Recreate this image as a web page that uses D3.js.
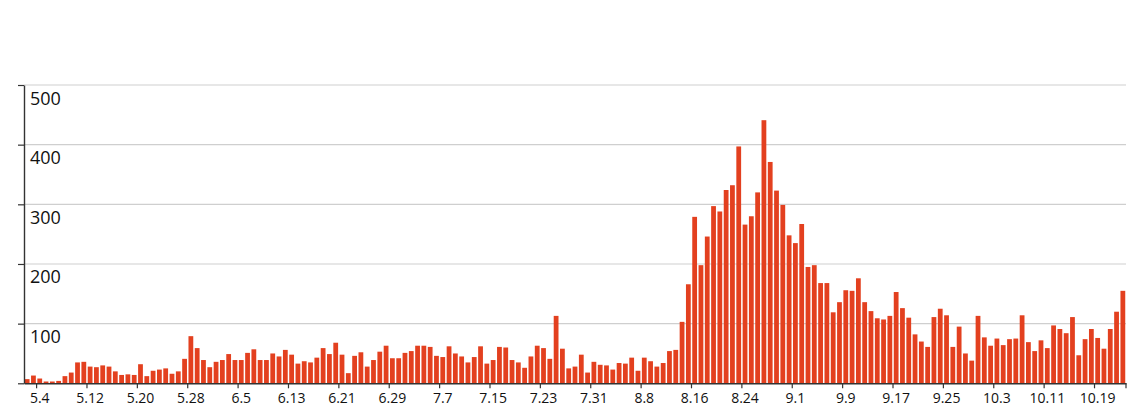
<!DOCTYPE html>
<html>
<head>
<meta charset="utf-8">
<script src="https://cdn.jsdelivr.net/npm/d3@7/dist/d3.min.js"></script>
<style>
  html, body { margin: 0; padding: 0; background: #fff; }
  svg { display: block; }
  text { font-family: "Open Sans", "Noto Sans", sans-serif; fill: #111; }
</style>
</head>
<body>
<svg id="chart" width="1138" height="418"></svg>
<script>
const categories = [
  "5.2","5.3","5.4","5.5","5.6","5.7","5.8","5.9","5.10","5.11","5.12","5.13","5.14","5.15","5.16","5.17","5.18","5.19","5.20","5.21","5.22","5.23","5.24","5.25","5.26","5.27","5.28","5.29","5.30","5.31",
  "6.1","6.2","6.3","6.4","6.5","6.6","6.7","6.8","6.9","6.10","6.11","6.12","6.13","6.14","6.15","6.16","6.17","6.18","6.19","6.20","6.21","6.22","6.23","6.24","6.25","6.26","6.27","6.28","6.29","6.30",
  "7.1","7.2","7.3","7.4","7.5","7.6","7.7","7.8","7.9","7.10","7.11","7.12","7.13","7.14","7.15","7.16","7.17","7.18","7.19","7.20","7.21","7.22","7.23","7.24","7.25","7.26","7.27","7.28","7.29","7.30","7.31",
  "8.1","8.2","8.3","8.4","8.5","8.6","8.7","8.8","8.9","8.10","8.11","8.12","8.13","8.14","8.15","8.16","8.17","8.18","8.19","8.20","8.21","8.22","8.23","8.24","8.25","8.26","8.27","8.28","8.29","8.30","8.31",
  "9.1","9.2","9.3","9.4","9.5","9.6","9.7","9.8","9.9","9.10","9.11","9.12","9.13","9.14","9.15","9.16","9.17","9.18","9.19","9.20","9.21","9.22","9.23","9.24","9.25","9.26","9.27","9.28","9.29","9.30",
  "10.1","10.2","10.3","10.4","10.5","10.6","10.7","10.8","10.9","10.10","10.11","10.12","10.13","10.14","10.15","10.16","10.17","10.18","10.19","10.20","10.21","10.22","10.23"
];

const values = [
  7,13,8,3,3,4,12,18,35,36,28,27,30,28,20,14,15,14,32,12,21,23,25,16,20,41,79,59,39,27,
  36,39,49,39,39,51,57,39,39,50,45,56,48,33,37,35,43,59,49,68,48,17,46,52,28,39,53,63,42,42,
  51,54,63,63,61,46,44,62,50,45,35,44,62,33,39,61,60,39,35,26,45,63,59,41,113,58,25,28,48,18,36,
  31,30,23,34,33,43,21,43,37,28,34,54,56,103,166,279,198,246,297,288,324,332,397,266,280,320,441,371,323,299,248,
  235,267,195,198,168,168,119,136,156,155,176,136,121,109,107,113,153,126,110,82,70,61,111,125,114,61,95,50,38,113,
  77,63,75,64,74,75,114,69,54,72,59,97,91,84,111,47,74,91,76,58,91,120,155
];

const xTickLabels = ["5.4","5.12","5.20","5.28","6.5","6.13","6.21","6.29","7.7","7.15","7.23","7.31","8.8","8.16","8.24","9.1","9.9","9.17","9.25","10.3","10.11","10.19"];
const yTickValues = [0,100,200,300,400,500];
const yTickLabels = ["","100","200","300","400","500"];

const svg = d3.select("#chart");
const plotLeft = 24, plotRight = 1126, plotTop = 85, plotBottom = 383.3;

const x = d3.scaleBand().domain(categories).range([plotLeft, plotRight]).paddingInner(0.24).paddingOuter(0.12);
const y = d3.scaleLinear().domain([0, 500]).range([plotBottom, plotTop]);
const step = x.step();

// gridlines
svg.append("g").selectAll("line").data(yTickValues.filter(v => v > 0)).join("line")
  .attr("x1", plotLeft).attr("x2", plotRight)
  .attr("y1", d => y(d)).attr("y2", d => y(d))
  .attr("stroke", "#cfcfcf").attr("stroke-width", 1.2);

// bars
svg.append("g").selectAll("rect").data(values).join("rect")
  .attr("x", (d, i) => x(categories[i]))
  .attr("width", x.bandwidth())
  .attr("y", d => y(d))
  .attr("height", d => y(0) - y(d))
  .attr("fill", "#e3401f");

// x axis
const xAxis = d3.axisBottom(x).tickValues(xTickLabels).tickSize(5).tickSizeOuter(0);
const gx = svg.append("g").attr("transform", `translate(0,${plotBottom})`).call(xAxis);
gx.select(".domain").attr("stroke", "#333").attr("stroke-width", 1.4);
gx.selectAll(".tick line").attr("x1", -step / 2).attr("x2", -step / 2).attr("stroke", "#333").attr("stroke-width", 1.2);
gx.selectAll(".tick text").attr("font-size", 14).attr("dy", 0).attr("y", 20)
  .style("font-family", "'Open Sans', sans-serif").attr("fill", "#222");
gx.append("line").attr("x1", plotRight).attr("x2", plotRight).attr("y1", 0).attr("y2", 5)
  .attr("stroke", "#333").attr("stroke-width", 1.2);

// y axis
const yAxis = d3.axisLeft(y).tickValues(yTickValues).tickSize(6).tickSizeOuter(0)
  .tickFormat((d, i) => yTickLabels[i]);
const gy = svg.append("g").attr("transform", `translate(${plotLeft},0)`).call(yAxis);
gy.select(".domain").attr("stroke", "#333").attr("stroke-width", 1.4);
gy.selectAll(".tick line").attr("stroke", "#333").attr("stroke-width", 1.2);
gy.selectAll(".tick text").attr("x", 6).attr("dy", 0).attr("y", 19)
  .attr("text-anchor", "start").attr("font-size", 18)
  .style("font-family", "'Open Sans', sans-serif").attr("fill", "#111");
</script>
</body>
</html>
